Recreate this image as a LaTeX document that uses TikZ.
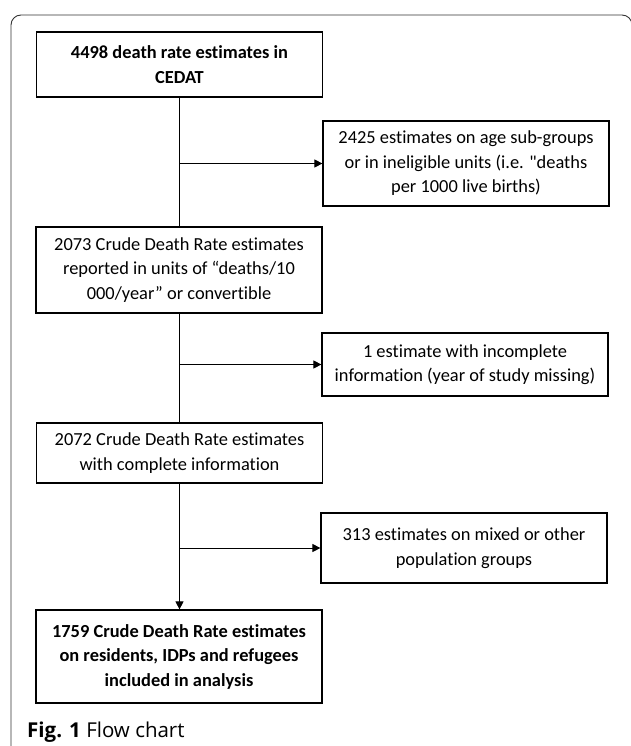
\documentclass[tikz,border=0pt]{standalone}
\usepackage{fontspec}
\setmainfont{Carlito}[Ligatures={TeXOff,NoCommon}]
\newfontfamily\capfont{Open Sans}
\usetikzlibrary{arrows.meta}

\begin{document}
\begin{tikzpicture}[x=1pt,y=-1pt,
    box/.style={draw,line width=1.2pt,minimum width=286pt,align=center,inner sep=2pt,font=\fontsize{18.4}{24.5}\selectfont},
    boldbox/.style={box,font=\fontsize{18.4}{24.5}\selectfont\bfseries},
    trunk/.style={line width=0.9pt},
    flow/.style={line width=0.9pt,-{Triangle[length=8pt,width=8pt]}}]
  \useasboundingbox (0,0) rectangle (630,746);
  \draw[line width=0.9pt,black!80,rounded corners=10pt] (11,760) -- (11,15) -- (632,15) -- (632,760);
  \node[boldbox,minimum height=65pt] (cedat) at (179.5,64.5) {4498 death rate estimates in\\CEDAT};
  \node[box,minimum height=85pt] (ineligible) at (466,163.5) {2425 estimates on age sub-groups\\or in ineligible units (i.e. "deaths\\per 1000 live births)};
  \node[box,minimum height=86pt] (crude) at (179,270) {2073 Crude Death Rate estimates\\reported in units of “deaths/10\\000/year” or convertible};
  \node[box,minimum height=63pt] (missing) at (465,364.5) {1 estimate with incomplete\\information (year of study missing)};
  \node[box,minimum height=60pt] (complete) at (179.5,453) {2072 Crude Death Rate estimates\\with complete information};
  \node[box,minimum height=70pt] (mixed) at (464,548) {313 estimates on mixed or other\\population groups};
  \node[boldbox,minimum height=93pt] (included) at (179,656.5) {1759 Crude Death Rate estimates\\on residents, IDPs and refugees\\included in analysis};
  \node[anchor=base west,inner sep=0pt,font=\capfont\fontsize{20.5}{24}\selectfont] (caption) at (27,737) {{\bfseries Fig. 1} Flow chart};
  \draw[trunk] (cedat.south) -- (cedat.south |- crude.north);
  \draw[flow] (cedat.south |- ineligible) -- (ineligible);
  \draw[trunk] (crude.south) -- (crude.south |- complete.north);
  \draw[flow] (crude.south |- missing) -- (missing);
  \draw[flow] (complete.south) -- (complete.south |- included.north);
  \draw[flow] (complete.south |- mixed) -- (mixed);
\end{tikzpicture}
\end{document}
